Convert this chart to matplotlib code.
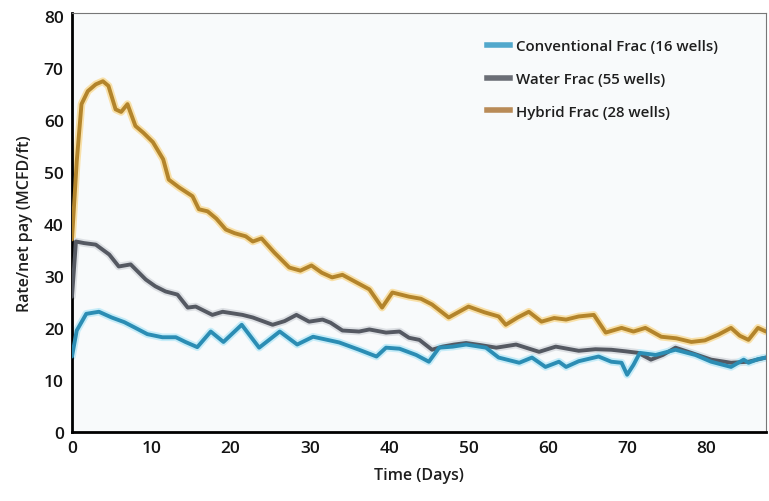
import matplotlib.pyplot as plt

# Hybrid Frac (28 wells)
hybrid_days = [0, 0.6, 1.2, 2.0, 3.0, 3.9, 4.6, 5.5, 6.2, 7.0, 8.0, 9.0, 10.2, 11.5, 12.2,
               13.5, 15.2, 16.0, 17.1, 18.2, 19.4, 20.5, 21.9, 22.8, 23.9, 25.5, 27.4, 28.8,
               30.2, 31.5, 32.8, 34.1, 35.8, 37.5, 39.1, 40.4, 42.5, 44.0, 45.4, 47.5, 50.0,
               52.0, 53.8, 54.7, 56.2, 57.6, 59.2, 60.8, 62.3, 63.9, 65.8, 67.3, 69.3, 70.8,
               72.3, 74.3, 76.2, 78.1, 79.8, 81.5, 83.1, 84.2, 85.3, 86.5, 87.5]
hybrid_vals = [37, 52, 63, 65.5, 66.8, 67.4, 66.5, 62, 61.5, 63, 58.8, 57.5, 55.7, 52.4, 48.5,
               47.0, 45.3, 42.8, 42.4, 41.0, 38.9, 38.2, 37.6, 36.6, 37.2, 34.5, 31.6, 31.0,
               32.0, 30.6, 29.7, 30.2, 28.8, 27.4, 23.9, 26.8, 26.0, 25.6, 24.5, 22.0, 24.1,
               23.0, 22.2, 20.6, 22.0, 23.1, 21.2, 21.9, 21.6, 22.2, 22.5, 19.1, 20.0, 19.3,
               20.0, 18.3, 18.0, 17.3, 17.6, 18.7, 20.0, 18.5, 17.7, 20.0, 19.3]

# Water Frac (55 wells)
water_days = [0, 0.5, 1.5, 3.0, 4.7, 5.9, 7.4, 9.3, 10.5, 11.8, 13.3, 14.6, 15.6, 17.7, 19.0,
              21.5, 22.8, 25.3, 26.8, 28.3, 29.9, 31.6, 32.6, 34.1, 36.2, 37.5, 39.6, 41.3,
              42.5, 43.8, 45.4, 46.7, 48.2, 49.7, 51.5, 53.5, 56.0, 58.9, 61.0, 63.9, 66.0,
              68.0, 69.8, 71.4, 73.0, 74.5, 76.1, 78.1, 80.6, 83.1, 85.3, 87.5]
water_vals = [26, 36.6, 36.3, 36.0, 34.1, 31.8, 32.2, 29.3, 28.0, 27.0, 26.4, 23.9, 24.1, 22.5,
              23.1, 22.5, 22.0, 20.6, 21.3, 22.5, 21.2, 21.6, 21.0, 19.5, 19.3, 19.7, 19.1,
              19.3, 18.1, 17.7, 15.8, 16.4, 16.8, 17.1, 16.7, 16.2, 16.8, 15.4, 16.4, 15.6,
              15.9, 15.8, 15.5, 15.2, 13.9, 14.8, 16.2, 15.2, 13.9, 13.3, 13.5, 14.3]

# Conventional Frac (16 wells)
conv_days = [0, 0.6, 1.8, 3.4, 5.0, 6.6, 8.0, 9.5, 11.4, 13.1, 14.3, 15.8, 17.5, 19.1, 21.4,
             23.6, 26.2, 28.4, 30.4, 33.7, 36.2, 38.4, 39.6, 41.3, 43.4, 45.0, 46.3, 48.0,
             49.7, 52.2, 53.8, 56.4, 58.0, 59.7, 61.4, 62.3, 63.9, 66.4, 68.0, 69.3, 70.0,
             70.8, 71.6, 73.6, 76.1, 78.6, 80.6, 83.1, 84.7, 85.3, 86.5, 87.5]
conv_vals = [14.5, 19.5, 22.7, 23.1, 22.0, 21.1, 20.0, 18.8, 18.2, 18.2, 17.3, 16.3, 19.3, 17.3,
             20.6, 16.2, 19.3, 16.8, 18.3, 17.2, 15.8, 14.5, 16.2, 16.0, 14.8, 13.5, 16.2,
             16.4, 16.8, 16.2, 14.3, 13.3, 14.3, 12.5, 13.5, 12.5, 13.6, 14.5, 13.5, 13.3,
             11.0, 12.9, 15.2, 14.8, 15.8, 14.8, 13.5, 12.5, 13.9, 13.3, 14.0, 14.3]

series = [
    ('Conventional Frac (16 wells)', conv_days, conv_vals, '#2b8db4', '#c6ecf8', '#52a8cc'),
    ('Water Frac (55 wells)', water_days, water_vals, '#555962', '#dde0e4', '#6b6e76'),
    ('Hybrid Frac (28 wells)', hybrid_days, hybrid_vals, '#b3842b', '#f8e0a8', '#b98b57'),
]

plt.rcParams['font.family'] = ['Open Sans', 'DejaVu Sans']

fig = plt.figure(figsize=(7.69, 5.02), dpi=100)
ax = fig.add_axes([0.0936, 0.1375, 0.9024, 0.8345])
ax.set_facecolor('#f8fafb')

# draw back-to-front: hybrid, water, conventional
for label, days, vals, color, halo, legcol in reversed(series):
    ax.plot(days, vals, color=halo, linewidth=5.5, solid_capstyle='round',
            solid_joinstyle='round', zorder=2)
    ax.plot(days, vals, color=color, linewidth=2.8, solid_joinstyle='round',
            solid_capstyle='round', zorder=3)

# legend handles
handles = []
for label, days, vals, color, halo, legcol in series:
    h, = ax.plot([], [], color=legcol, linewidth=4, label=label)
    handles.append(h)
leg = ax.legend(handles=handles, loc='upper right', bbox_to_anchor=(0.95, 0.97),
                frameon=False, handlelength=1.5, handletextpad=0.4, labelspacing=1.25,
                prop={'family': ['Open Sans', 'DejaVu Sans'], 'weight': 'semibold',
                      'size': 10.8})
for t in leg.get_texts():
    t.set_color('#1e1e1e')

ax.set_xlim(0, 87.5)
ax.set_ylim(0, 80.5)
ax.set_xticks(range(0, 81, 10))
ax.set_yticks(range(0, 81, 10))
ax.tick_params(length=0, labelsize=12.5, pad=6, colors='#141414')
for t in ax.get_xticklabels() + ax.get_yticklabels():
    t.set_fontweight('semibold')

ax.spines['left'].set_linewidth(2)
ax.spines['bottom'].set_linewidth(2)
ax.spines['top'].set_linewidth(0.8)
ax.spines['right'].set_linewidth(0.8)
ax.spines['top'].set_color('#777777')
ax.spines['right'].set_color('#777777')

ax.set_xlabel('Time (Days)', fontsize=11.5, labelpad=8, color='#1e1e1e',
              fontweight='semibold')
ax.set_ylabel('Rate/net pay (MCFD/ft)', fontsize=11.5, labelpad=8, color='#1e1e1e',
              fontweight='semibold')

fig.savefig('out.png', dpi=100)
